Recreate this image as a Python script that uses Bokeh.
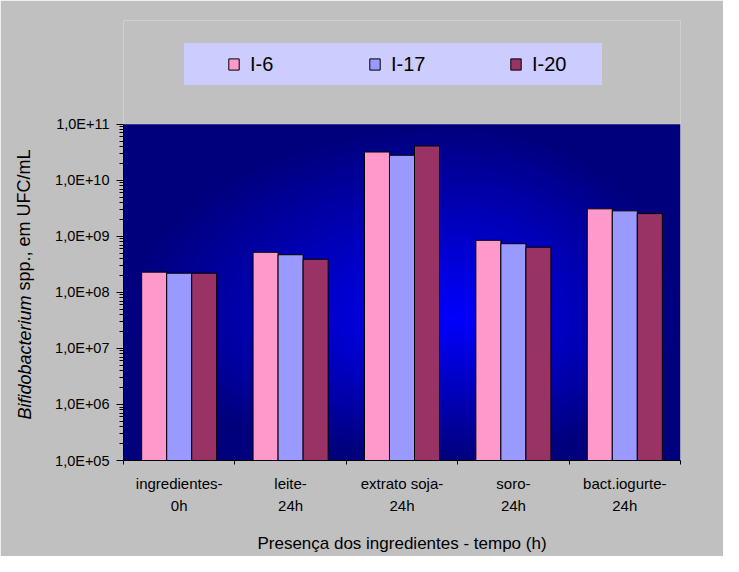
import numpy as np
from bokeh.plotting import figure
from bokeh.models import (ColumnDataSource, FactorRange, Range1d, LinearAxis,
                          CategoricalAxis, FixedTicker, CustomJSTickFormatter, Legend,
                          LegendItem, Title)
from bokeh.transform import dodge
from bokeh.embed import file_html
from bokeh.resources import INLINE

# ---- data ----
categories = ["ingredientes-\n0h", "leite-\n24h", "extrato soja-\n24h", "soro-\n24h", "bact.iogurte-\n24h"]
series = ["I-6", "I-17", "I-20"]
i6 = [2.3e8, 5.2e8, 3.2e10, 8.5e8, 3.1e9]
i17 = [2.2e8, 4.7e8, 2.8e10, 7.4e8, 2.85e9]
i20 = [2.2e8, 3.9e8, 4.1e10, 6.4e8, 2.55e9]
colors = ["#FF99CC", "#9999FF", "#993366"]
y_ticks = [1e5, 1e6, 1e7, 1e8, 1e9, 1e10, 1e11]
y_tick_labels = ["1,0E+05", "1,0E+06", "1,0E+07", "1,0E+08", "1,0E+09", "1,0E+10", "1,0E+11"]
x_title = "Presença dos ingredientes - tempo (h)"
y_title_italic = "Bifidobacterium"
y_title_rest = "spp., em UFC/mL"

FONT = "Liberation Sans"
W, H = 723, 556

# layout geometry (pixels): the frame reaches up to hold the legend,
# the plotted area spans y_ticks[0]..y_ticks[-1]
frame_top, frame_bottom, plot_top = 20, 463, 124.5
px_per_decade = (frame_bottom - plot_top) / (np.log10(y_ticks[-1]) - np.log10(y_ticks[0]))
y_end = y_ticks[-1] * 10 ** ((plot_top - frame_top) / px_per_decade)

p = figure(width=W, height=H,
           x_range=FactorRange(*categories, range_padding=0),
           y_range=Range1d(y_ticks[0], y_end),
           y_axis_type="log", x_axis_location=None,
           output_backend="svg", toolbar_location=None,
           min_border_left=123, min_border_right=43,
           min_border_top=frame_top, min_border_bottom=H - frame_bottom)
p.border_fill_color = "#C0C0C0"
p.background_fill_color = "#C0C0C0"
p.outline_line_color = None
p.grid.visible = False

# ---- gradient background of the plot area (styling only) ----
ny, nx = 340, 558
yy, xx = np.mgrid[0:ny, 0:nx]
fx = xx / (nx - 1)
fy = yy / (ny - 1)
cx, cy = 0.6, 0.42
dx = np.where(fx < cx, (cx - fx) / cx, (fx - cx) / (1 - cx))
dy = np.where(fy < cy, (cy - fy) / cy, (fy - cy) / (1 - cy))
t = np.clip(np.sqrt(dx ** 2 + dy ** 2), 0, 1)
blue = (255 - 130 * t).astype(np.uint8)
img = np.zeros((ny, nx), dtype=np.uint32)
view = img.view(dtype=np.uint8).reshape((ny, nx, 4))
view[:, :, 2] = blue
view[:, :, 3] = 255
p.image_rgba(image=[img], x=0, y=y_ticks[0], dw=len(categories), dh=y_ticks[-1] - y_ticks[0])

# ---- bars ----
src = ColumnDataSource(dict(cat=categories, i6=i6, i17=i17, i20=i20))
bw = 0.2246
offsets = [-bw, 0.0, bw]
renderers = []
for key, col, off in zip(["i6", "i17", "i20"], colors, offsets):
    r = p.vbar(x=dodge("cat", off, range=p.x_range), top=key, bottom=y_ticks[0],
               width=bw, source=src, fill_color=col, line_color="#000000", line_width=1)
    renderers.append(r)

# ---- x axes: boundary ticks + category labels ----
tick_axis = LinearAxis(ticker=FixedTicker(ticks=list(range(len(categories) + 1))),
                       formatter=CustomJSTickFormatter(code="return ''"),
                       major_label_text_font_size="0px", major_label_standoff=0,
                       major_tick_out=4, major_tick_in=0,
                       minor_tick_line_color=None,
                       axis_line_color="#000000", major_tick_line_color="#000000")
p.add_layout(tick_axis, "below")

cat_axis = CategoricalAxis(major_tick_line_color=None, axis_line_color=None,
                           minor_tick_line_color=None,
                           major_label_standoff=4,
                           major_label_text_font=FONT,
                           major_label_text_font_size="15px",
                           major_label_text_color="#000000",
                           major_label_text_line_height=1.33,
                           axis_label=x_title,
                           axis_label_text_font=FONT,
                           axis_label_text_font_size="17px",
                           axis_label_text_font_style="normal",
                           axis_label_text_color="#000000",
                           axis_label_standoff=17)
p.add_layout(cat_axis, "below")

# ---- y axis ----
minor = [m * d for d in y_ticks[:-1] for m in range(2, 10)]
ya = p.yaxis[0]
ya.bounds = (y_ticks[0], y_ticks[-1])
ya.ticker = FixedTicker(ticks=y_ticks, minor_ticks=minor)
ya.formatter = CustomJSTickFormatter(args=dict(tvals=y_ticks, tlabels=y_tick_labels), code="""
const i = tvals.findIndex(v => Math.abs(Math.log10(v) - Math.log10(tick)) < 1e-6);
return i >= 0 ? tlabels[i] : '';
""")
ya.major_label_text_font = FONT
ya.major_label_text_font_size = "14.5px"
ya.major_label_text_color = "#000000"
ya.major_label_standoff = 7
ya.major_tick_out = 7
ya.major_tick_in = 0
ya.minor_tick_out = 4
ya.minor_tick_in = 0
ya.axis_line_color = "#000000"
ya.major_tick_line_color = "#000000"
ya.minor_tick_line_color = "#000000"
# blank axis label used only as a gap between tick labels and the title column
ya.axis_label = " "
ya.axis_label_text_font_size = "10px"
ya.axis_label_standoff = 13

# ---- y title: italic genus + plain rest, two zero-width titles sharing one column ----
fs = 18
italic_w = 6.891 * fs
space_w = 0.278 * fs
y0 = 41
p.add_layout(Title(text=y_title_italic, align="left", vertical_align="middle",
                   offset=y0, standoff=-21, text_font=FONT, text_font_size=f"{fs}px",
                   text_font_style="italic", text_color="#000000"), "left")
p.add_layout(Title(text=y_title_rest, align="left", vertical_align="middle",
                   offset=y0 + italic_w + space_w, standoff=-21, text_font=FONT,
                   text_font_size=f"{fs}px", text_font_style="normal",
                   text_color="#000000"), "left")

# ---- legend, inside the (extended) frame above the plot area ----
legend = Legend(items=[LegendItem(label=s, renderers=[r]) for s, r in zip(series, renderers)],
                orientation="horizontal", location=(61, frame_bottom - 88),
                title=" ", title_location="left", title_standoff=28,
                title_text_font_size="13px",
                background_fill_color="#CCCCFF", background_fill_alpha=1.0,
                border_line_color=None, margin=0,
                padding=9, spacing=48, label_standoff=10, label_width=70,
                label_height=42, glyph_width=13, glyph_height=14,
                label_text_font=FONT, label_text_font_size="20px",
                label_text_color="#000000")
p.add_layout(legend, "center")

open("out.html", "w").write(file_html(p, INLINE))
